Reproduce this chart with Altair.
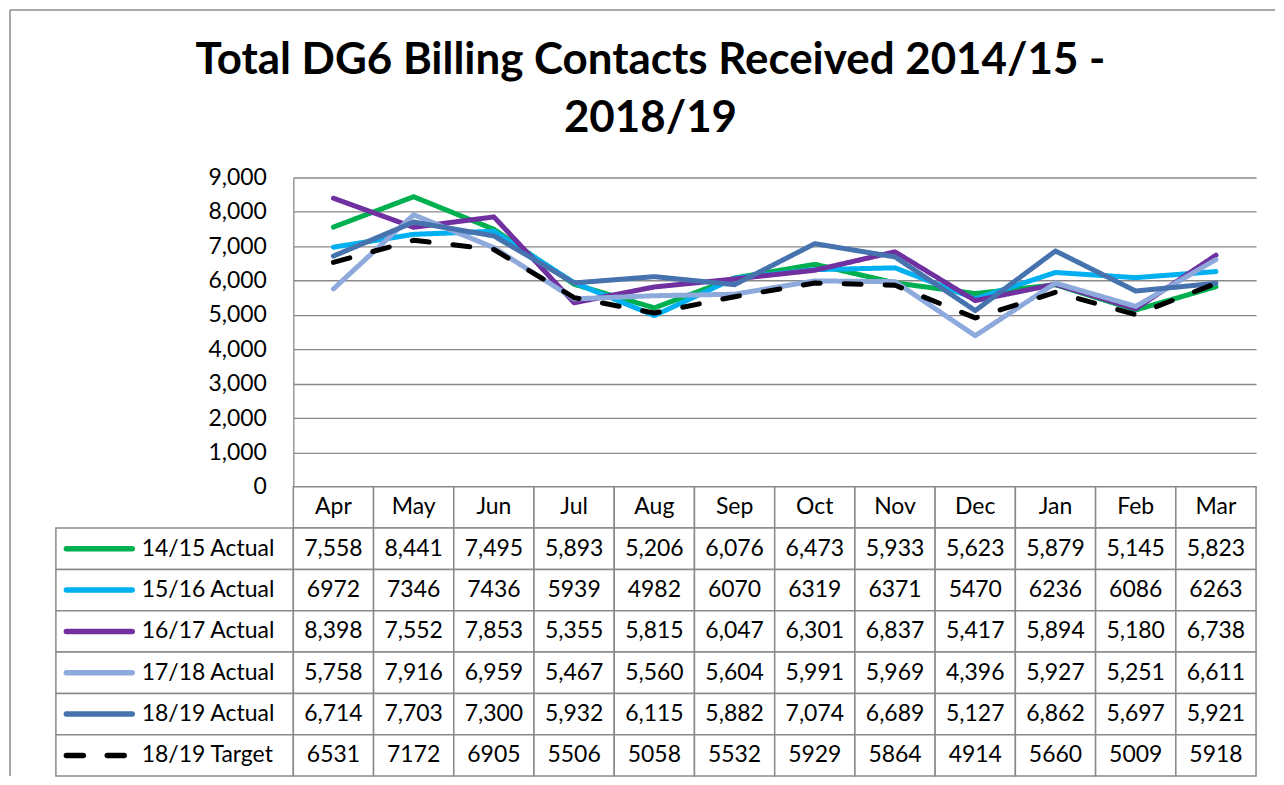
import altair as alt
import pandas as pd

MONTHS = ["Apr", "May", "Jun", "Jul", "Aug", "Sep", "Oct", "Nov", "Dec", "Jan", "Feb", "Mar"]
SERIES = ["14/15 Actual", "15/16 Actual", "16/17 Actual", "17/18 Actual", "18/19 Actual", "18/19 Target"]

V_1415 = [7558, 8441, 7495, 5893, 5206, 6076, 6473, 5933, 5623, 5879, 5145, 5823]
V_1516 = [6972, 7346, 7436, 5939, 4982, 6070, 6319, 6371, 5470, 6236, 6086, 6263]
V_1617 = [8398, 7552, 7853, 5355, 5815, 6047, 6301, 6837, 5417, 5894, 5180, 6738]
V_1718 = [5758, 7916, 6959, 5467, 5560, 5604, 5991, 5969, 4396, 5927, 5251, 6611]
V_1819 = [6714, 7703, 7300, 5932, 6115, 5882, 7074, 6689, 5127, 6862, 5697, 5921]
V_TARGET = [6531, 7172, 6905, 5506, 5058, 5532, 5929, 5864, 4914, 5660, 5009, 5918]
VALUES = [V_1415, V_1516, V_1617, V_1718, V_1819, V_TARGET]
# rows shown in the data table with a thousands separator
COMMA = [True, False, True, True, True, False]

COLORS = ["#00B050", "#00B0F0", "#7030A0", "#8EA9DB", "#4672AE", "#000000"]
DASHES = [[1, 0], [1, 0], [1, 0], [1, 0], [1, 0], [17, 24]]
TITLE_LINES = ["Total DG6 Billing Contacts Received 2014/15 -", "2018/19"]
Y_TICKS = [0, 1000, 2000, 3000, 4000, 5000, 6000, 7000, 8000, 9000]

FONT = "Lato"
GRID = "#898989"
TXT = 23

rows = []
for s, vals, c in zip(SERIES, VALUES, COMMA):
    for m, v in zip(MONTHS, vals):
        rows.append({"series": s, "month": m, "value": v,
                     "label": f"{v:,}" if c else str(v)})
long_df = pd.DataFrame(rows)
header_df = pd.DataFrame({"series": ["header"] * len(MONTHS), "month": MONTHS, "label": MONTHS})
table_df = pd.concat([header_df, long_df[["series", "month", "label"]]], ignore_index=True)
ROW_ORDER = ["header"] + SERIES

color_scale = alt.Scale(domain=SERIES, range=COLORS)
dash_scale = alt.Scale(domain=SERIES, range=DASHES)

PLOT_W, PLOT_H = 965, 310
LEG_W, TAB_H = 238, 290

# --- top-left cell: chart title and outer frame
one = pd.DataFrame({"k": [0]})
frame_left = alt.Chart(one).mark_rule(color="#8c8c8c", strokeWidth=1.5).encode(
    x=alt.value(-46), y=alt.value(-168), y2=alt.value(PLOT_H + TAB_H))
frame_top = alt.Chart(one).mark_rule(color="#8c8c8c", strokeWidth=1.5).encode(
    x=alt.value(-46), x2=alt.value(1222), y=alt.value(-168))
title1 = alt.Chart(pd.DataFrame({"t": [TITLE_LINES[0]]})).mark_text(
    font=FONT, fontSize=44, fontWeight="bold", align="center", baseline="alphabetic", color="black"
).encode(text="t:N", x=alt.value(596), y=alt.value(-104))
title2 = alt.Chart(pd.DataFrame({"t": [TITLE_LINES[1]]})).mark_text(
    font=FONT, fontSize=44, fontWeight="bold", align="center", baseline="alphabetic", color="black"
).encode(text="t:N", x=alt.value(596), y=alt.value(-46))
topleft = alt.layer(frame_left, frame_top, title1, title2).properties(width=LEG_W, height=PLOT_H)

# --- line chart
lines = alt.Chart(long_df).mark_line(strokeWidth=5, strokeJoin="round", strokeCap="round").encode(
    x=alt.X("month:N", sort=MONTHS, scale=alt.Scale(type="point", padding=0.5, domain=MONTHS), axis=None),
    y=alt.Y("value:Q", scale=alt.Scale(domain=[0, 9000], nice=False),
            axis=alt.Axis(values=Y_TICKS, format=",.0f", title=None, grid=True, gridColor=GRID,
                          gridWidth=1.3, domainColor=GRID, domainWidth=1.3, ticks=False,
                          labelFont=FONT, labelFontSize=TXT, labelColor="black", labelPadding=27)),
    color=alt.Color("series:N", scale=color_scale, legend=None),
    strokeDash=alt.StrokeDash("series:N", scale=dash_scale, legend=None),
).properties(width=PLOT_W, height=PLOT_H)

# --- legend column of the data table
leg_df = pd.DataFrame({"series": SERIES})
y_leg = alt.Y("series:N", scale=alt.Scale(domain=ROW_ORDER, paddingInner=0, paddingOuter=0), axis=None)
leg_cells = alt.Chart(leg_df).mark_rect(fill="white", stroke=GRID, strokeWidth=1.5).encode(
    y=y_leg, x=alt.value(0), x2=alt.value(LEG_W))
leg_swatch = alt.Chart(leg_df).mark_rule(strokeWidth=5.5, strokeCap="round").encode(
    x=alt.value(10.5), x2=alt.value(76.5), y=y_leg,
    color=alt.Color("series:N", scale=color_scale, legend=None),
    strokeDash=alt.StrokeDash("series:N", scale=dash_scale, legend=None))
leg_text = alt.Chart(leg_df).mark_text(font=FONT, fontSize=TXT, align="left", baseline="middle",
                                       color="black").encode(
    x=alt.value(86), y=y_leg, text="series:N")
legcol = alt.layer(leg_cells, leg_swatch, leg_text).properties(width=LEG_W, height=TAB_H)

# --- data table
x_band = alt.X("month:N", scale=alt.Scale(domain=MONTHS, paddingInner=0, paddingOuter=0), axis=None)
y_band = alt.Y("series:N", scale=alt.Scale(domain=ROW_ORDER, paddingInner=0, paddingOuter=0), axis=None)
cells = alt.Chart(table_df).mark_rect(fill="white", stroke=GRID, strokeWidth=1.5).encode(x=x_band, y=y_band)
texts = alt.Chart(table_df).mark_text(font=FONT, fontSize=TXT, color="black", baseline="middle").encode(
    x=x_band, y=y_band, text="label:N")
table = alt.layer(cells, texts).properties(width=PLOT_W, height=TAB_H)

chart = alt.concat(
    topleft, lines, legcol, table,
    columns=2, spacing=0, bounds="flush", align="each",
    padding={"left": 1, "top": 0, "right": 0, "bottom": 0},
).configure_view(stroke="transparent", strokeWidth=0)

chart.save("out.html", embed_options={"renderer": "svg", "actions": False})
